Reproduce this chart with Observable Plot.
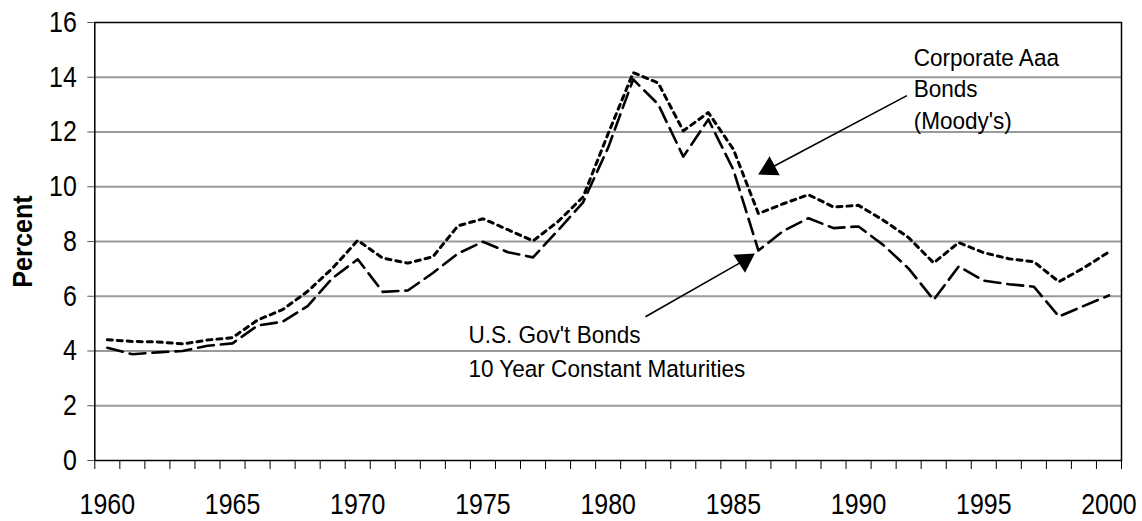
<!DOCTYPE html>
<html><head><meta charset="utf-8">
<script src="https://cdn.jsdelivr.net/npm/d3@7"></script>
<script src="https://cdn.jsdelivr.net/npm/@observablehq/plot@0.6"></script>
<style>body{margin:0;background:#fff}</style>
</head><body><div id="chart"></div>
<script>
const years = [1960,1961,1962,1963,1964,1965,1966,1967,1968,1969,1970,1971,1972,1973,1974,1975,1976,1977,1978,1979,1980,1981,1982,1983,1984,1985,1986,1987,1988,1989,1990,1991,1992,1993,1994,1995,1996,1997,1998,1999,2000];
const govBonds = [4.12,3.88,3.95,4.00,4.19,4.28,4.93,5.07,5.64,6.67,7.35,6.16,6.21,6.85,7.56,7.99,7.61,7.42,8.41,9.43,11.43,13.92,13.01,11.10,12.46,10.62,7.67,8.39,8.85,8.49,8.55,7.86,7.01,5.87,7.09,6.57,6.44,6.35,5.26,5.65,6.03];
const aaaBonds = [4.41,4.35,4.33,4.26,4.40,4.49,5.13,5.51,6.18,7.03,8.04,7.39,7.21,7.44,8.57,8.83,8.43,8.02,8.73,9.63,11.94,14.17,13.79,12.04,12.71,11.37,9.02,9.38,9.71,9.26,9.32,8.77,8.14,7.22,7.96,7.59,7.37,7.26,6.53,7.04,7.62];
const xTickLabels = [1960,1965,1970,1975,1980,1985,1990,1995,2000];
const yTicks = [0,2,4,6,8,10,12,14,16];
const gridValues = [2,4,6,8,10,12,14];
const categoryBounds = years.map(y => y - 0.5).concat([years[years.length-1] + 0.5]);

// annotations (data units)
const aaaLabel = ["Corporate Aaa", "Bonds", "(Moody's)"];
const aaaLabelPos = {x: 1992.2, y: [14.71, 13.55, 12.41]};
const govLabel = ["U.S. Gov't Bonds", "10 Year Constant Maturities"];
const govLabelPos = {x: 1974.42, y: [4.57, 3.35]};
const arrows = [
  {x1: 1991.93, y1: 13.33, x2: 1986.43, y2: 10.66, rot: 242},
  {x1: 1981.49, y1: 5.25, x2: 1985.44, y2: 7.31, rot: 57}
];

const govData = years.map((y, i) => ({year: y, value: govBonds[i]}));
const aaaData = years.map((y, i) => ({year: y, value: aaaBonds[i]}));

const chart = Plot.plot({
  width: 1142,
  height: 521,
  marginLeft: 94.3,
  marginRight: 21,
  marginTop: 22,
  marginBottom: 61,
  style: {fontFamily: "'Liberation Sans', Arial, sans-serif", color: "black", background: "white"},
  x: {domain: [years[0] - 0.5, years[years.length-1] + 0.5]},
  y: {domain: [0, 16]},
  marks: [
    Plot.ruleY(gridValues, {stroke: "#9a9a9a", strokeWidth: 2}),
    Plot.frame({stroke: "black", strokeWidth: 1.5}),
    Plot.axisY(yTicks, {tickSize: 7, tickPadding: 11, fontSize: 29, stroke: "#555", fill: "black", label: null, tickFormat: d => String(d)}),
    Plot.axisX(categoryBounds, {tickSize: 9, tickFormat: () => "", stroke: "black", label: null}),
    Plot.axisX(xTickLabels, {tickSize: 0, tickPadding: 33, fontSize: 29, fill: "black", label: null, tickFormat: d => String(d)}),
    Plot.text(["Percent"], {frameAnchor: "left", textAnchor: "middle", dx: -72, rotate: -90, fontWeight: "bold", fontSize: 28, fill: "black"}),
    Plot.line(aaaData, {x: "year", y: "value", stroke: "black", strokeWidth: 3, strokeDasharray: "5,5"}),
    Plot.line(govData, {x: "year", y: "value", stroke: "black", strokeWidth: 2.6, strokeDasharray: "16,7"}),
    Plot.link(arrows, {x1: "x1", y1: "y1", x2: "x2", y2: "y2", stroke: "black", strokeWidth: 1.6}),
    Plot.dot(arrows, {x: "x2", y: "y2", symbol: "triangle", r: 8, fill: "black", stroke: "none", rotate: "rot"}),
    Plot.text(aaaLabel, {x: aaaLabelPos.x, y: (d, i) => aaaLabelPos.y[i], text: d => d, textAnchor: "start", fontSize: 24.5, fill: "black"}),
    Plot.text(govLabel, {x: govLabelPos.x, y: (d, i) => govLabelPos.y[i], text: d => d, textAnchor: "start", fontSize: 24.5, fill: "black"})
  ]
});
document.getElementById("chart").appendChild(chart);

// condense text horizontally (reference typeface is narrower than Arial)
const squeeze = {"29": 0.86, "28": 0.9, "24.5": 0.92};
d3.select(chart).selectAll("text").each(function() {
  const fs = String(parseFloat(getComputedStyle(this).fontSize));
  const s = squeeze[fs];
  if (!s) return;
  let x = parseFloat(this.getAttribute("x"));
  if (!isFinite(x)) x = 0;
  const t = this.getAttribute("transform") || "";
  this.setAttribute("transform", `${t} translate(${x},0) scale(${s},1) translate(${-x},0)`.trim());
});
</script>
</body></html>
